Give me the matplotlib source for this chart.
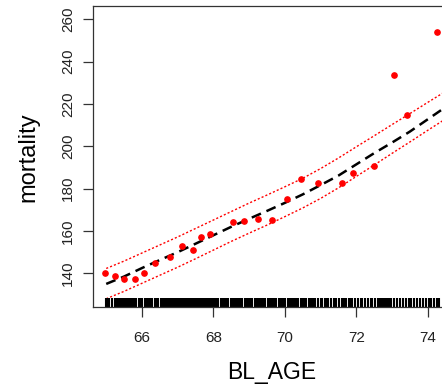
import numpy as np
import matplotlib.pyplot as plt
from matplotlib.transforms import blended_transform_factory

plt.rcParams['font.family'] = ['Liberation Sans', 'DejaVu Sans']

# binned observed mortality vs age
pt_age = [64.97, 65.24, 65.50, 65.81, 66.07, 66.37, 66.78, 67.11, 67.42, 67.64,
          67.90, 68.55, 68.85, 69.24, 69.64, 70.06, 70.45, 70.93, 71.60, 71.91,
          72.50, 73.04, 73.43, 74.27]
pt_mort = [140.0, 138.7, 137.2, 137.2, 140.0, 145.0, 147.9, 152.9, 151.0, 157.3,
           158.4, 164.1, 164.7, 165.6, 165.2, 175.0, 184.8, 182.6, 182.6, 187.6,
           190.5, 233.9, 214.6, 254.0]

# fitted curve and confidence band
fit_age = [65.0, 65.5, 66.0, 66.5, 67.0, 67.5, 68.0, 68.5, 69.0, 69.5,
           70.0, 70.5, 71.0, 71.5, 72.0, 72.5, 73.0, 73.5, 74.0, 74.5]
fit = [135.0, 138.5, 142.5, 146.3, 150.0, 154.0, 158.0, 162.0, 165.8, 169.5,
       173.3, 177.3, 181.7, 186.2, 191.5, 196.8, 201.8, 207.0, 212.8, 218.6]
upper = [142.3, 145.8, 149.6, 153.4, 157.2, 161.2, 165.2, 169.2, 173.2, 177.0,
         180.9, 184.9, 189.5, 194.5, 199.8, 205.0, 210.3, 215.5, 220.8, 226.0]
lower = [128.0, 131.5, 135.3, 139.1, 142.9, 146.9, 151.0, 155.1, 159.0, 162.8,
         166.8, 170.9, 175.4, 180.4, 185.8, 191.2, 196.7, 202.1, 207.6, 213.0]

# rug of individual BL_AGE values
rug_age = [
    65.00, 65.04, 65.08, 65.16, 65.24, 65.28, 65.32, 65.36, 65.40, 65.44, 65.48,
    65.52, 65.56, 65.60, 65.64, 65.68, 65.72, 65.76, 65.80, 65.84, 65.92, 65.96,
    66.00, 66.08, 66.12, 66.16, 66.20, 66.24, 66.28, 66.36, 66.40, 66.44, 66.52,
    66.56, 66.60, 66.64, 66.68, 66.72, 66.76, 66.80, 66.84, 66.88, 66.92, 66.96,
    67.00, 67.04, 67.08, 67.12, 67.16, 67.20, 67.24, 67.28, 67.32, 67.36, 67.40,
    67.44, 67.48, 67.52, 67.56, 67.60, 67.64, 67.68, 67.72, 67.76, 67.80, 67.84,
    67.88, 67.92, 67.96, 68.00, 68.04, 68.08, 68.12, 68.20, 68.28, 68.32, 68.36,
    68.40, 68.48, 68.52, 68.56, 68.60, 68.64, 68.68, 68.72, 68.76, 68.80, 68.88,
    68.92, 68.96, 69.00, 69.04, 69.08, 69.16, 69.20, 69.24, 69.28, 69.32, 69.36,
    69.40, 69.44, 69.52, 69.56, 69.60, 69.64, 69.68, 69.72, 69.76, 69.84, 69.88,
    69.96, 70.00, 70.08, 70.12, 70.16, 70.24, 70.28, 70.32, 70.36, 70.44, 70.48,
    70.52, 70.56, 70.60,
    70.68, 70.72, 70.80, 70.84, 70.92, 71.00, 71.04, 71.12, 71.16, 71.20, 71.28,
    71.36, 71.40, 71.44, 71.52, 71.60, 71.64, 71.72, 71.80, 71.84, 71.88, 71.96,
    72.04, 72.12, 72.16, 72.24, 72.32, 72.40, 72.44,
    72.52, 72.60, 72.66, 72.70, 72.74, 72.78, 72.82, 72.86, 72.90, 72.98, 73.06,
    73.14, 73.22, 73.30, 73.38, 73.46, 73.54, 73.62, 73.70, 73.78, 73.86, 73.94,
    74.02, 74.10, 74.18, 74.26, 74.32,
]

fig = plt.figure(figsize=(4.42, 3.87), dpi=100)
ax = fig.add_axes([93 / 442, 80 / 387, 357 / 442, 301 / 387])

ax.plot(fit_age, upper, color='red', lw=1.0, linestyle=(0, (1.5, 1.5)))
ax.plot(fit_age, lower, color='red', lw=1.0, linestyle=(0, (1.5, 1.5)))
ax.plot(fit_age, fit, color='black', lw=1.8, linestyle=(0, (4.0, 2.4)))
ax.plot(pt_age, pt_mort, 'o', color='red', ms=3.8, mec='red')

trans = blended_transform_factory(ax.transData, ax.transAxes)
ax.vlines(rug_age, 0, 0.03, transform=trans, color='black', lw=1.5)

ax.set_xlim(64.63, 74.62)
ax.set_ylim(124.1, 266.3)
ax.set_xticks([66, 68, 70, 72, 74])
ax.set_yticks([140, 160, 180, 200, 220, 240, 260])

for s in ax.spines.values():
    s.set_color('#333333')
    s.set_linewidth(0.9)
ax.tick_params(length=7, width=0.9, color='#333333', labelsize=11,
               labelcolor='#222222')
ax.tick_params(axis='x', pad=10)
ax.tick_params(axis='y', pad=6)
for lab in ax.get_yticklabels():
    lab.set_rotation(90)
    lab.set_va('center')

ax.set_xlabel('BL_AGE', fontsize=16.5)
ax.xaxis.label.set_va('center')
ax.xaxis.set_label_coords(0.5, -0.219)
ax.set_ylabel('mortality', fontsize=17)
ax.yaxis.label.set_va('center')
ax.yaxis.set_label_coords(-0.182, 0.497)

fig.savefig('out.png', dpi=100)
